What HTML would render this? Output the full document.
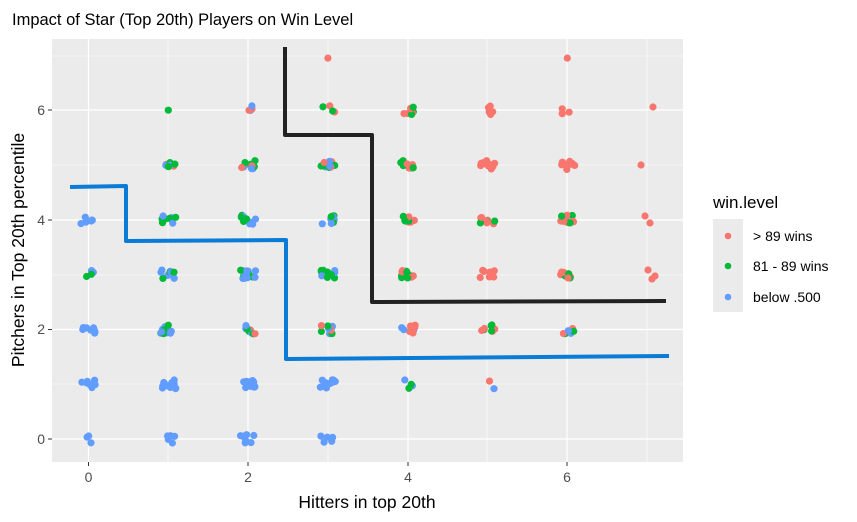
<!DOCTYPE html>
<html><head><meta charset="utf-8"><style>body{margin:0;background:#fff}svg{display:block;font-family:"Liberation Sans",Arial,sans-serif}</style></head>
<body>
<svg id="s" width="857" height="522" xmlns="http://www.w3.org/2000/svg">
<rect x="52" y="39" width="631" height="423" fill="#EBEBEB"/>
<g stroke="#fff" stroke-width="0.6">
<line x1="52" x2="683" y1="56" y2="56"/><line x1="52" x2="683" y1="165" y2="165"/><line x1="52" x2="683" y1="275" y2="275"/><line x1="52" x2="683" y1="384" y2="384"/>
<line y1="39" y2="462" x1="168" x2="168"/><line y1="39" y2="462" x1="328" x2="328"/><line y1="39" y2="462" x1="487" x2="487"/><line y1="39" y2="462" x1="647" x2="647"/>
</g>
<g stroke="#fff" stroke-width="1.2">
<line x1="52" x2="683" y1="110" y2="110"/><line x1="52" x2="683" y1="220" y2="220"/><line x1="52" x2="683" y1="329.5" y2="329.5"/><line x1="52" x2="683" y1="439" y2="439"/>
<line y1="39" y2="462" x1="88.5" x2="88.5"/><line y1="39" y2="462" x1="248" x2="248"/><line y1="39" y2="462" x1="408" x2="408"/><line y1="39" y2="462" x1="567" x2="567"/>
</g>
<g id="pts"></g>
<polyline points="285,47 285,135 372,135 372,302 666,301" fill="none" stroke="#222" stroke-width="4" stroke-linejoin="round"/>
<polyline points="70,187 126,186 126,241 286,240 286,359 669,356" fill="none" stroke="#0A7BD6" stroke-width="4" stroke-linejoin="round"/>
<g stroke="#333" stroke-width="1">
<line x1="48" x2="52" y1="110" y2="110"/><line x1="48" x2="52" y1="220" y2="220"/><line x1="48" x2="52" y1="329.5" y2="329.5"/><line x1="48" x2="52" y1="439" y2="439"/>
<line y1="462" y2="466" x1="88.5" x2="88.5"/><line y1="462" y2="466" x1="248" x2="248"/><line y1="462" y2="466" x1="408" x2="408"/><line y1="462" y2="466" x1="567" x2="567"/>
</g>
<g fill="#4D4D4D" font-size="14" text-anchor="end">
<text x="45" y="115">6</text><text x="45" y="225">4</text><text x="45" y="334">2</text><text x="45" y="444">0</text>
</g>
<g fill="#4D4D4D" font-size="14" text-anchor="middle">
<text x="88.5" y="482">0</text><text x="248" y="482">2</text><text x="408" y="482">4</text><text x="567" y="482">6</text>
</g>
<text x="12" y="25" font-size="16.5" fill="#000">Impact of Star (Top 20th) Players on Win Level</text>
<text x="367" y="508" font-size="17.5" text-anchor="middle">Hitters in top 20th</text>
<text transform="translate(24,250) rotate(-90)" font-size="17.5" text-anchor="middle">Pitchers in Top 20th percentile</text>
<text x="713" y="208" font-size="17">win.level</text>
<rect x="713" y="219" width="30" height="93" fill="#EBEBEB"/>
<circle cx="728" cy="236" r="3.3" fill="#F8766D"/><circle cx="728" cy="266" r="3.3" fill="#00BA38"/><circle cx="728" cy="297" r="3.3" fill="#619CFF"/>
<g font-size="14"><text x="753" y="241">&gt; 89 wins</text><text x="753" y="271">81 - 89 wins</text><text x="753" y="302">below .500</text></g>
</svg>
<script>
var R='#F8766D',G='#00BA38',B='#619CFF';
var C=[[0,4,6,'b'],[0,3,4,'bg'],[0,2,8,'b'],[0,1,8,'b'],[0,0,3,'b'],
[1,6,1,'g'],[1,5,8,'rbgg'],[1,4,8,'bgg'],[1,3,12,'bbg'],[1,2,12,'bbg'],[1,1,16,'b'],[1,0,6,'b'],
[2,6,4,'brr'],[2,5,10,'rbgg'],[2,4,12,'bggb'],[2,3,14,'bbg'],[2,2,10,'rbgg'],[2,1,14,'b'],[2,0,7,'b'],
[3,6.95,1,'r'],[3,6,4,'rg'],[3,5,10,'rbgg'],[3,4,12,'bgb'],[3,3,12,'bgg'],[3,2,10,'rbg'],[3,1,10,'b'],[3,0,5,'b'],
[4,6,8,'rgr'],[4,5,10,'grrg'],[4,4,12,'rgg'],[4,3,14,'rgg'],[4,2,10,'rrb'],[4,1,4,'bg'],
[5,6,5,'r'],[5,5,14,'r'],[5,4,10,'rrg'],[5,3,8,'r'],[5,2,8,'rg'],[5,1,2,'rb'],
[6,6.95,1,'r'],[6,6,3,'r'],[6,5,8,'r'],[6,4,12,'rrg'],[6,3,10,'rrg'],[6,2,6,'rgb']];
var s=7,out='';function rnd(){s=(s*16807)%2147483647;return s/2147483647;}
function px(x){return 88.5+x*79.8}function py(y){return 439-y*54.8}
C.forEach(function(c){for(var i=0;i<c[2];i++){var col={r:R,g:G,b:B}[c[3][i%c[3].length]];
var dx=c[2]==1?0:(rnd()-0.5)*15,dy=c[2]==1?0:(rnd()-0.5)*9;
out+='<circle cx="'+(px(c[0])+dx).toFixed(1)+'" cy="'+(py(c[1])+dy).toFixed(1)+'" r="3.6" fill="'+col+'"/>';}});
[[653,107],[641,165],[645,216],[650,223],[648,270],[652,279],[655,276]].forEach(function(p){out+='<circle cx="'+p[0]+'" cy="'+p[1]+'" r="3.6" fill="'+R+'"/>';});
document.getElementById('pts').innerHTML=out;
</script>
</body></html>
